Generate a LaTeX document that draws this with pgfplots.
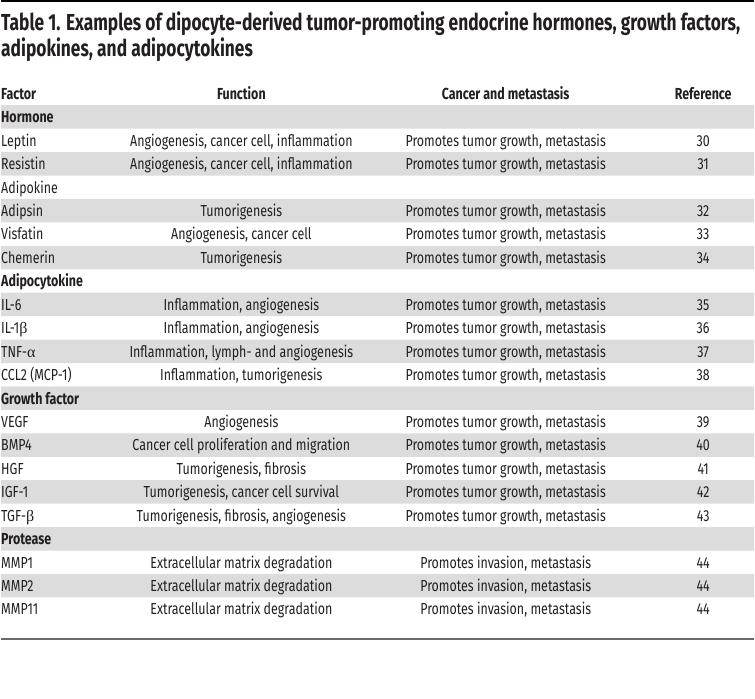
\documentclass[border=0pt]{standalone}
\usepackage{pgfplots}
\pgfplotsset{compat=1.18}
\usepackage{fontspec}
\setmainfont{Fira Sans}[FakeStretch=0.78]
\newfontfamily\titlefont{Fira Sans}[FakeStretch=0.75]
\newfontfamily\greek{Liberation Serif}
\definecolor{rowgray}{HTML}{DCDCDC}
\definecolor{txt}{HTML}{231F20}
\definecolor{rule}{HTML}{6A6A6A}

% row i: baseline = 93.75 + 23.5*i + 5.5
\newcommand\trow[5]{%
  \node[anchor=base west] at (axis cs:0,{99.6+23.5*#1}) {#2};
  \node[anchor=base] at (axis cs:241,{99.6+23.5*#1}) {#3};
  \node[anchor=base] at (axis cs:506,{99.6+23.5*#1}) {#4};
  \node[anchor=base] at (axis cs:704,{99.6+23.5*#1}) {#5};
}

\begin{document}
\begin{tikzpicture}[font=\fontsize{16}{19}\selectfont, every node/.style={text=txt, inner sep=0pt}]
\begin{axis}[
    x=1pt, y=1pt, y dir=reverse,
    xmin=0, xmax=755, ymin=0, ymax=700,
    hide axis, clip=false, scale only axis,
  ]
  \path (axis cs:0,0) rectangle (axis cs:755,700);

  % shaded rows (centres)
  \addplot[xbar, bar width=23.5, bar shift=0pt, fill=rowgray, draw=none]
    coordinates {(755,117.25) (755,164.25) (755,211.25) (755,258.25)
                 (755,305.25) (755,352.25) (755,399.25) (755,446.25)
                 (755,493.25) (755,540.25) (755,587.25)};

  % rules
  \addplot[black, line width=1.5pt] coordinates {(0,1) (755,1)};
  \addplot[rule, line width=2pt] coordinates {(0,641) (755,641)};

  % title
  \node[anchor=base west, font=\titlefont\fontsize{23.2}{26}\selectfont\bfseries] at (axis cs:0,30.7)
    {Table 1. Examples of dipocyte-derived tumor-promoting endocrine hormones, growth factors,};
  \node[anchor=base west, font=\titlefont\fontsize{23.2}{26}\selectfont\bfseries] at (axis cs:0,56.5)
    {adipokines, and adipocytokines};

  % header
  \begin{scope}[font=\fontsize{16}{19}\selectfont\bfseries]
  \trow{0}{Factor}{Function}{Cancer and metastasis}{Reference}
  \end{scope}

  \begin{scope}[font=\fontsize{16}{19}\selectfont\bfseries]
  \trow{1}{Hormone}{}{}{}
  \end{scope}
  \trow{2}{Leptin}{Angiogenesis, cancer cell, inflammation}{Promotes tumor growth, metastasis}{30}
  \trow{3}{Resistin}{Angiogenesis, cancer cell, inflammation}{Promotes tumor growth, metastasis}{31}
  \trow{4}{Adipokine}{}{}{}
  \trow{5}{Adipsin}{Tumorigenesis}{Promotes tumor growth, metastasis}{32}
  \trow{6}{Visfatin}{Angiogenesis, cancer cell}{Promotes tumor growth, metastasis}{33}
  \trow{7}{Chemerin}{Tumorigenesis}{Promotes tumor growth, metastasis}{34}
  \begin{scope}[font=\fontsize{16}{19}\selectfont\bfseries]
  \trow{8}{Adipocytokine}{}{}{}
  \end{scope}
  \trow{9}{IL-6}{Inflammation, angiogenesis}{Promotes tumor growth, metastasis}{35}
  \trow{10}{IL-1{\greek β}}{Inflammation, angiogenesis}{Promotes tumor growth, metastasis}{36}
  \trow{11}{TNF-{\greek α}}{Inflammation, lymph- and angiogenesis}{Promotes tumor growth, metastasis}{37}
  \trow{12}{CCL2 (MCP-1)}{Inflammation, tumorigenesis}{Promotes tumor growth, metastasis}{38}
  \begin{scope}[font=\fontsize{16}{19}\selectfont\bfseries]
  \trow{13}{Growth factor}{}{}{}
  \end{scope}
  \trow{14}{VEGF}{Angiogenesis}{Promotes tumor growth, metastasis}{39}
  \trow{15}{BMP4}{Cancer cell proliferation and migration}{Promotes tumor growth, metastasis}{40}
  \trow{16}{HGF}{Tumorigenesis, fibrosis}{Promotes tumor growth, metastasis}{41}
  \trow{17}{IGF-1}{Tumorigenesis, cancer cell survival}{Promotes tumor growth, metastasis}{42}
  \trow{18}{TGF-{\greek β}}{Tumorigenesis, fibrosis, angiogenesis}{Promotes tumor growth, metastasis}{43}
  \begin{scope}[font=\fontsize{16}{19}\selectfont\bfseries]
  \trow{19}{Protease}{}{}{}
  \end{scope}
  \trow{20}{MMP1}{Extracellular matrix degradation}{Promotes invasion, metastasis}{44}
  \trow{21}{MMP2}{Extracellular matrix degradation}{Promotes invasion, metastasis}{44}
  \trow{22}{MMP11}{Extracellular matrix degradation}{Promotes invasion, metastasis}{44}
\end{axis}
\end{tikzpicture}
\end{document}
